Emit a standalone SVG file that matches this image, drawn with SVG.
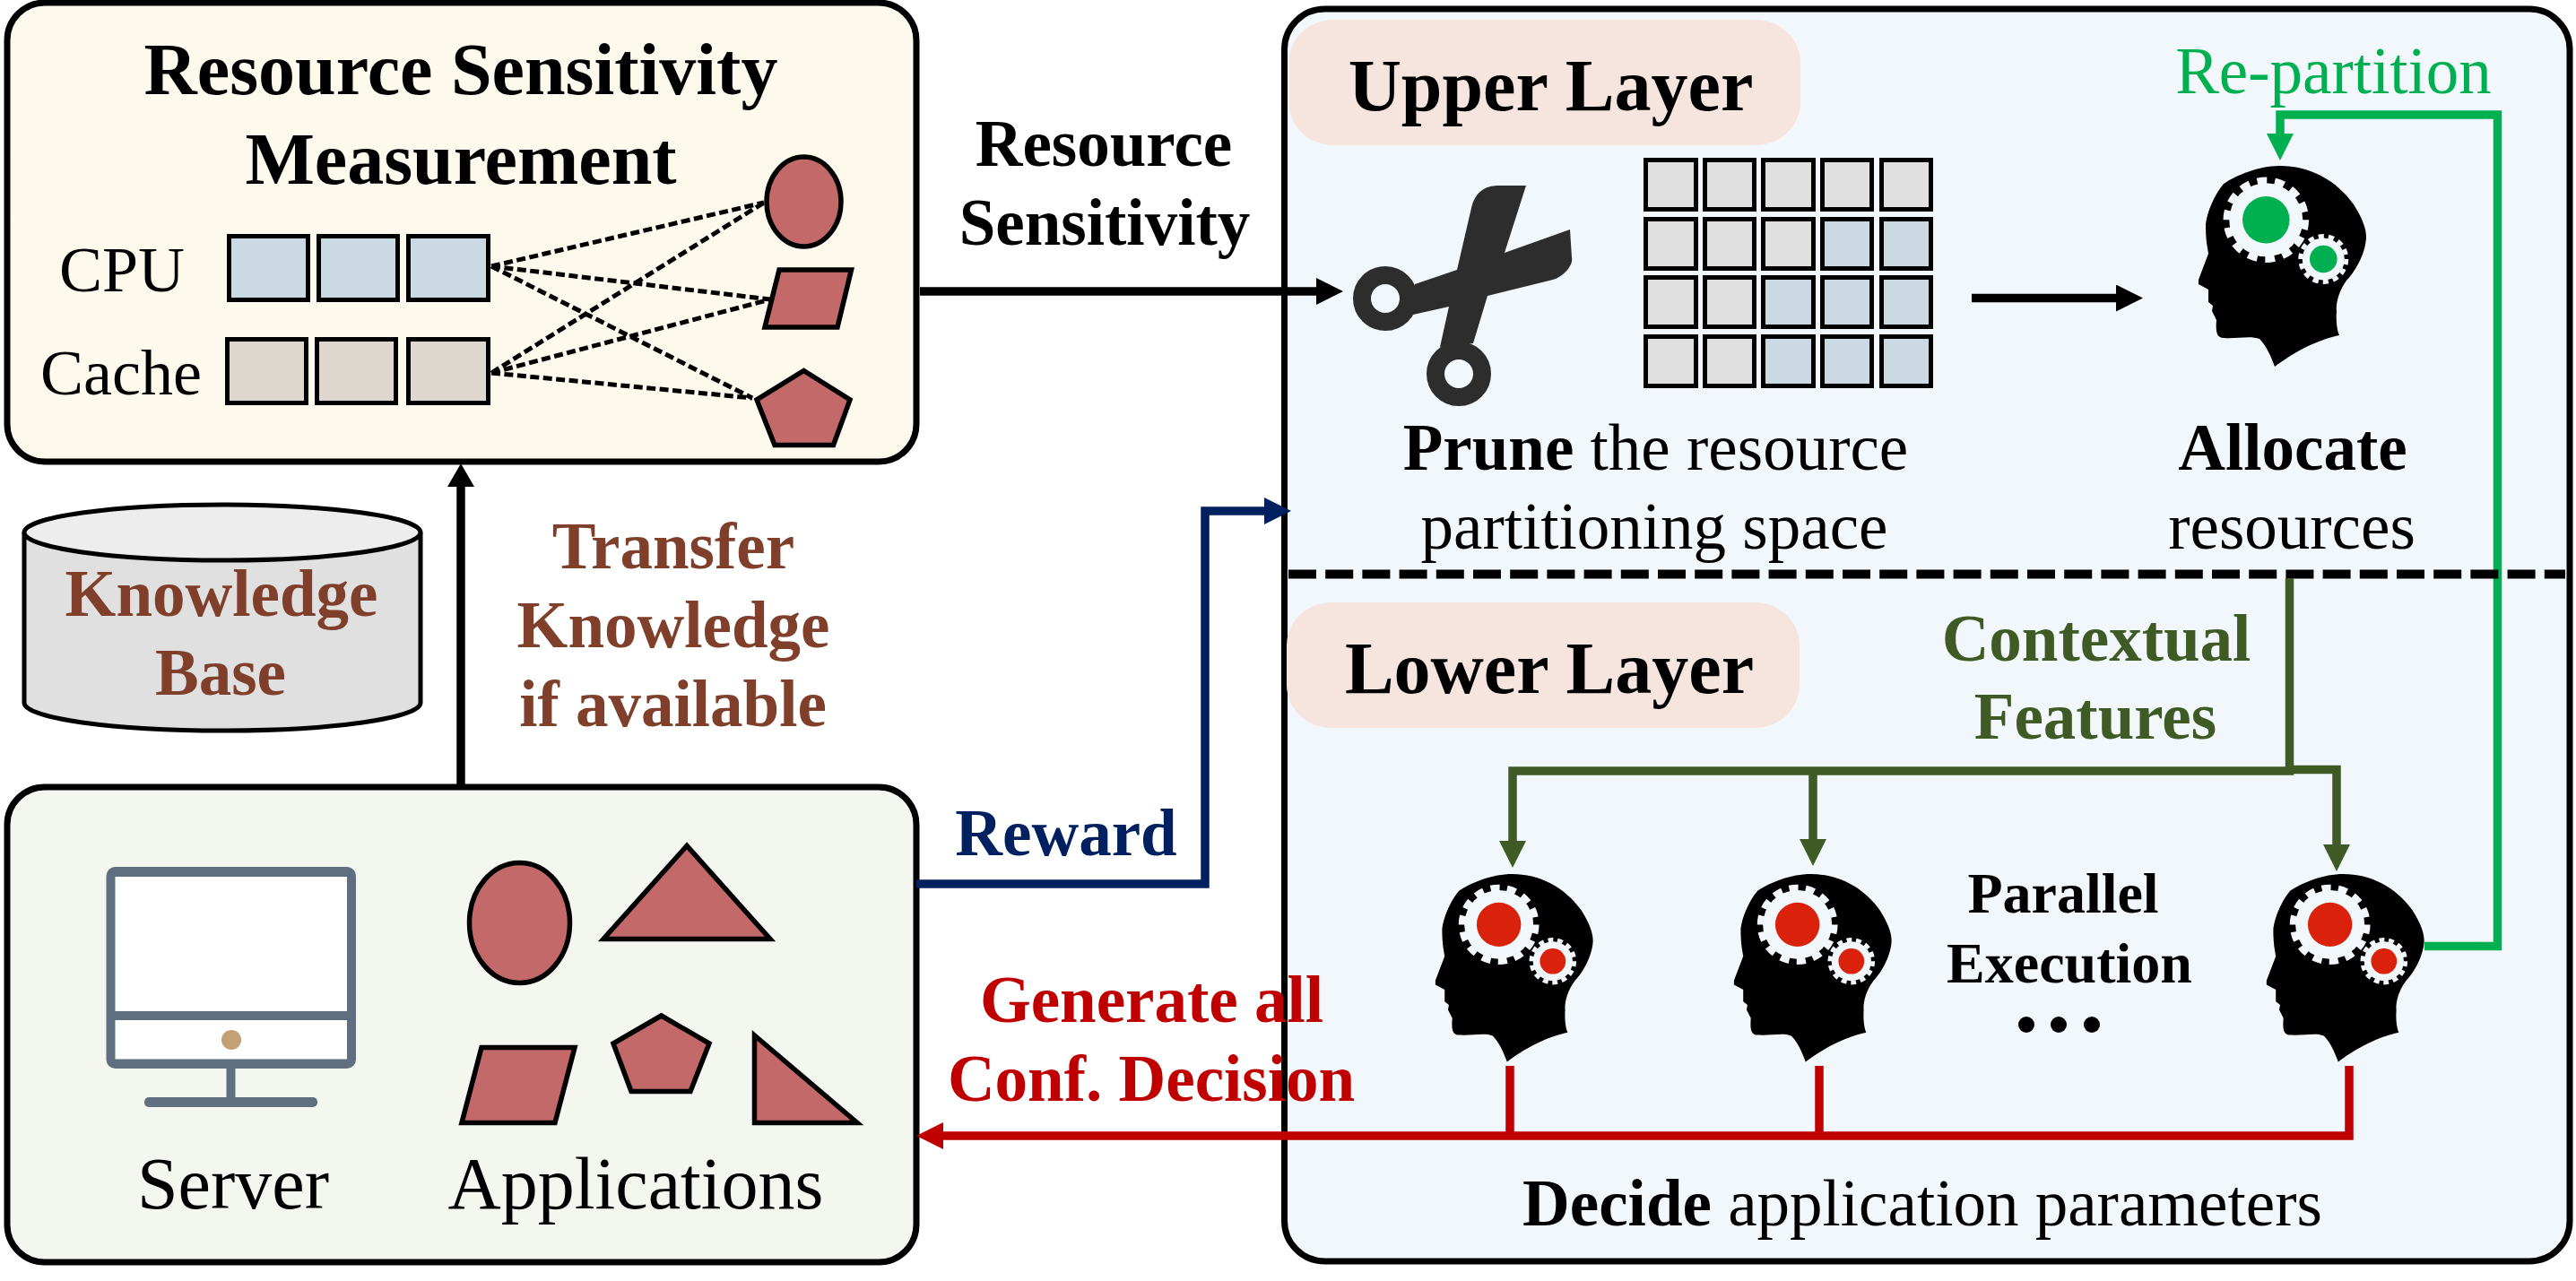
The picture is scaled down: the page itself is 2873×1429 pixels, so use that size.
<svg xmlns="http://www.w3.org/2000/svg" width="2873" height="1429" viewBox="0 0 2873 1429">
<style>
text{font-family:"Liberation Serif","Times New Roman",serif;text-anchor:middle;fill:#000}
.b{font-weight:bold}
.f82{font-size:82px}.f73{font-size:73px}.f72{font-size:72px}.f64{font-size:64px}
.panel{stroke:#000;stroke-width:7}
.shape{fill:#c3696a;stroke:#000;stroke-width:5.5}
.cell{stroke:#000;stroke-width:5}
.g{fill:#e0e0e0}.bl{fill:#cbd9e3}.be{fill:#ddd7cf}
.pill{fill:#f5e5de}
.dash{fill:none;stroke:#000;stroke-width:5;stroke-dasharray:10 4.5}
.c{fill:none;stroke-width:9.5}
.brown{fill:#7f3f2b}.olive{fill:#3f5a24}.red{fill:#c00000}.navy{fill:#002060}.green{fill:#00b050}
.mon{fill:#5f6f80}
.gearbg{fill:#f2f7fb}
.teeth{fill:none;stroke:#f2f7fb}
.rg{fill:#d9210b}
</style>
<defs>
<marker id="ak" markerUnits="userSpaceOnUse" markerWidth="30" markerHeight="30" viewBox="0 0 30 30" refX="0" refY="15" orient="auto"><path d="M0 0L30 15L0 30Z" fill="#000"/></marker>
<marker id="ak2" markerUnits="userSpaceOnUse" markerWidth="26" markerHeight="30" viewBox="0 0 26 30" refX="0" refY="15" orient="auto"><path d="M0 0L26 15L0 30Z" fill="#000"/></marker>
<marker id="an" markerUnits="userSpaceOnUse" markerWidth="30" markerHeight="30" viewBox="0 0 30 30" refX="0" refY="15" orient="auto"><path d="M0 0L30 15L0 30Z" fill="#002060"/></marker>
<marker id="ar" markerUnits="userSpaceOnUse" markerWidth="30" markerHeight="30" viewBox="0 0 30 30" refX="0" refY="15" orient="auto"><path d="M0 0L30 15L0 30Z" fill="#c00000"/></marker>
<marker id="ao" markerUnits="userSpaceOnUse" markerWidth="30" markerHeight="30" viewBox="0 0 30 30" refX="0" refY="15" orient="auto"><path d="M0 0L30 15L0 30Z" fill="#3f5a24"/></marker>
<marker id="ag" markerUnits="userSpaceOnUse" markerWidth="30" markerHeight="30" viewBox="0 0 30 30" refX="0" refY="15" orient="auto"><path d="M0 0L30 15L0 30Z" fill="#00b050"/></marker>
<g id="head">
<path d="M143 15C175 15 205 30 225 58C235 74 239 85 239 95C238 115 225 135 217 143C208 155 205 170 206 177C205 190 207 200 209 204C190 208 165 218 137 239C133 228 128 216 120 208C110 204 95 208 80 207C72 207 71 200 72 187L67 177L68 171L63 167L63 153L52 147L52 142L63 113C62 105 60 100 60 80C62 65 70 47 80 35C95 25 120 15 143 15Z" fill="#000"/>
<circle class="gearbg" cx="127.3" cy="75.3" r="41"/>
<circle class="teeth" cx="127.3" cy="75.3" r="44" stroke-width="7.500" pathLength="28" stroke-dasharray="1.1 .9"/>
<circle class="gearbg" cx="191.3" cy="119" r="23.500"/>
<circle class="teeth" cx="191.3" cy="119" r="25.500" stroke-width="5" pathLength="28" stroke-dasharray="1.1 .9"/>
</g>
</defs>

<rect width="2873" height="1429" fill="#fff"/>

<g id="measurement">
<rect class="panel" x="8" y="3" width="1014" height="512" rx="42" ry="42" fill="#fef9ed"/>
<text class="b f82" x="514" y="105">Resource Sensitivity</text>
<text class="b f82" x="514" y="205">Measurement</text>
<text class="f72" x="136" y="325">CPU</text>
<text class="f72" x="135" y="440">Cache</text>
<rect class="cell bl" x="255.500" y="263.500" width="88" height="71"/>
<rect class="cell bl" x="355.500" y="263.500" width="88" height="71"/>
<rect class="cell bl" x="455.500" y="263.500" width="89" height="71"/>
<rect class="cell be" x="253.500" y="378.500" width="88" height="71"/>
<rect class="cell be" x="353.500" y="378.500" width="88" height="71"/>
<rect class="cell be" x="455.500" y="378.500" width="89" height="71"/>
<ellipse class="shape" cx="896.500" cy="225" rx="41.500" ry="50"/>
<path class="shape" d="M869 301L949.500 301L934 365L853 365Z"/>
<path class="shape" d="M896.500 413.500L948 446L929.500 496.500L864 496.500L844 446Z"/>
<path class="dash" d="M548 297L852 226M548 297L859 334M548 297L839 444M548 416L852 226M548 416L859 334M548 416L839 444"/>
</g>

<g id="knowledge-base">
<path d="M27 594V784A221 31 0 0 0 469 784V594" fill="#e0e0e0" stroke="#000" stroke-width="5"/>
<ellipse cx="248" cy="594" rx="221" ry="31" fill="#ededed" stroke="#000" stroke-width="5"/>
<text class="b f73 brown" x="247" y="687">Knowledge</text>
<text class="b f73 brown" x="246" y="775">Base</text>
</g>

<g id="server-box">
<rect class="panel" x="8" y="878" width="1014" height="530" rx="42" ry="42" fill="#f3f7f0"/>
<rect class="mon" x="118.500" y="967" width="278.500" height="225" rx="10"/>
<rect x="128.500" y="978" width="258.500" height="150" fill="#fff"/>
<rect x="128.500" y="1138" width="258.500" height="43.500" fill="#fff"/>
<circle cx="258" cy="1160" r="11" fill="#c4a077"/>
<rect class="mon" x="252.500" y="1190" width="10" height="36"/>
<rect class="mon" x="161" y="1224" width="193" height="11" rx="5"/>
<ellipse class="shape" cx="579.500" cy="1029.500" rx="56" ry="67"/>
<path class="shape" d="M766 943.500L673 1047.500L859 1047.500Z"/>
<path class="shape" d="M537 1168.500L641 1168.500L619 1252.500L515 1252.500Z"/>
<path class="shape" d="M737.500 1133L791 1164L770 1217.500L704 1217.500L684 1164Z"/>
<path class="shape" d="M841.500 1155L956 1252.500L841.500 1252.500Z"/>
<text class="f82" x="260" y="1348">Server</text>
<text class="f82" x="709" y="1348">Applications</text>
</g>

<g id="controller">
<rect class="panel" x="1432.500" y="10" width="1433.500" height="1397" rx="45" ry="45" fill="#f2f7fb"/>
</g>

<g id="upper-layer">
<rect class="pill" x="1437" y="22" width="571" height="140" rx="50" ry="48"/>
<text class="b f82" x="1729.500" y="123">Upper Layer</text>
<g id="scissors">
<path d="M1702 207L1672 207C1655 207 1645 215 1641 232L1625 301L1578 317L1576 351L1616 342L1606 387L1643 383L1659 330L1732 312C1745 308 1755 295 1753 287L1751 256L1678 282Z" fill="#2d2d2d"/>
<circle cx="1545" cy="333" r="26" fill="#f2f7fb" stroke="#2d2d2d" stroke-width="20"/>
<circle cx="1627" cy="417" r="26" fill="#f2f7fb" stroke="#2d2d2d" stroke-width="20"/>
</g>
<g id="partition-grid">
<rect class="cell g" x="1835.500" y="178.500" width="56" height="55"/><rect class="cell g" x="1901.500" y="178.500" width="55" height="55"/><rect class="cell g" x="1966.500" y="178.500" width="56" height="55"/><rect class="cell g" x="2032.500" y="178.500" width="55" height="55"/><rect class="cell g" x="2098.500" y="178.500" width="55" height="55"/>
<rect class="cell g" x="1835.500" y="244.500" width="56" height="55"/><rect class="cell g" x="1901.500" y="244.500" width="55" height="55"/><rect class="cell g" x="1966.500" y="244.500" width="56" height="55"/><rect class="cell bl" x="2032.500" y="244.500" width="55" height="55"/><rect class="cell bl" x="2098.500" y="244.500" width="55" height="55"/>
<rect class="cell g" x="1835.500" y="309.500" width="56" height="55"/><rect class="cell g" x="1901.500" y="309.500" width="55" height="55"/><rect class="cell bl" x="1966.500" y="309.500" width="56" height="55"/><rect class="cell bl" x="2032.500" y="309.500" width="55" height="55"/><rect class="cell bl" x="2098.500" y="309.500" width="55" height="55"/>
<rect class="cell g" x="1835.500" y="375.500" width="56" height="55"/><rect class="cell g" x="1901.500" y="375.500" width="55" height="55"/><rect class="cell bl" x="1966.500" y="375.500" width="56" height="55"/><rect class="cell bl" x="2032.500" y="375.500" width="55" height="55"/><rect class="cell bl" x="2098.500" y="375.500" width="55" height="55"/>
</g>
<text class="f73" x="1846.500" y="524"><tspan class="b">Prune</tspan> the resource</text>
<text class="f73" x="1845" y="612">partitioning space</text>
<g id="allocator" transform="translate(2400 170)">
<use href="#head"/>
<circle class="green" cx="127.300" cy="75.300" r="26.300"/>
<circle class="green" cx="191.300" cy="119" r="15.300"/>
</g>
<text class="b f73" x="2557" y="524">Allocate</text>
<text class="f73" x="2556" y="612">resources</text>
</g>

<g id="lower-layer">
<rect class="pill" x="1435" y="672" width="572" height="140" rx="50" ry="48"/>
<text class="b f82" x="1728" y="773">Lower Layer</text>
<g id="agent-1" transform="translate(1552 961) scale(.94 .935)">
<use href="#head"/>
<circle class="rg" cx="127.300" cy="75.300" r="26.300"/>
<circle class="rg" cx="191.300" cy="119" r="15.300"/>
</g>
<g id="agent-2" transform="translate(1885 961) scale(.94 .935)">
<use href="#head"/>
<circle class="rg" cx="127.300" cy="75.300" r="26.300"/>
<circle class="rg" cx="191.300" cy="119" r="15.300"/>
</g>
<g id="agent-3" transform="translate(2479 961) scale(.94 .935)">
<use href="#head"/>
<circle class="rg" cx="127.300" cy="75.300" r="26.300"/>
<circle class="rg" cx="191.300" cy="119" r="15.300"/>
</g>
<text class="b f64" x="2301" y="1018">Parallel</text>
<text class="b f64" x="2308" y="1095.500">Execution</text>
<g id="ellipsis"><circle cx="2260" cy="1143" r="9"/><circle cx="2296" cy="1143" r="9"/><circle cx="2333" cy="1143" r="9"/></g>
<text class="f73" x="2144" y="1366.500"><tspan class="b">Decide</tspan> application parameters</text>
</g>

<g id="connectors">
<path d="M1026 325H1468" class="c" stroke="#000" marker-end="url(#ak)"/>
<path d="M2199 332.500H2360" class="c" stroke="#000" marker-end="url(#ak)"/>
<path d="M514 878V543" class="c" stroke="#000" marker-end="url(#ak2)"/>
<path d="M1022 986H1344V570H1410" class="c" stroke="#002060" marker-end="url(#an)"/>
<path d="M2620 1189V1267H1052" class="c" stroke="#c00000" marker-end="url(#ar)"/>
<path d="M1684 1189V1267M2029 1189V1267" class="c" stroke="#c00000"/>
<path d="M2704 1055.500H2785.500V128H2543V149" class="c" stroke="#00b050" marker-end="url(#ag)"/>
<path d="M1437 640.500H2861" fill="none" stroke="#000" stroke-width="10" stroke-dasharray="31 10.200"/>
<path d="M2553.500 645V860H1687V938" class="c" stroke="#3f5a24" marker-end="url(#ao)"/>
<path d="M2022 860V936" class="c" stroke="#3f5a24" marker-end="url(#ao)"/>
<path d="M2553.500 858.500H2606V942" class="c" stroke="#3f5a24" marker-end="url(#ao)"/>
<text class="b f73" x="1231" y="185">Resource</text>
<text class="b f73" x="1232" y="273">Sensitivity</text>
<text class="b f73 brown" x="751" y="634">Transfer</text>
<text class="b f73 brown" x="751" y="722">Knowledge</text>
<text class="b f73 brown" x="750.500" y="810">if available</text>
<text class="b f73 navy" x="1189" y="954">Reward</text>
<text class="b f73 red" x="1284.500" y="1140">Generate all</text>
<text class="b f73 red" x="1284" y="1228">Conf. Decision</text>
<text class="f73 green" x="2602.500" y="104">Re-partition</text>
<text class="b f73 olive" x="2338" y="737">Contextual</text>
<text class="b f73 olive" x="2337" y="824">Features</text>
</g>
</svg>
